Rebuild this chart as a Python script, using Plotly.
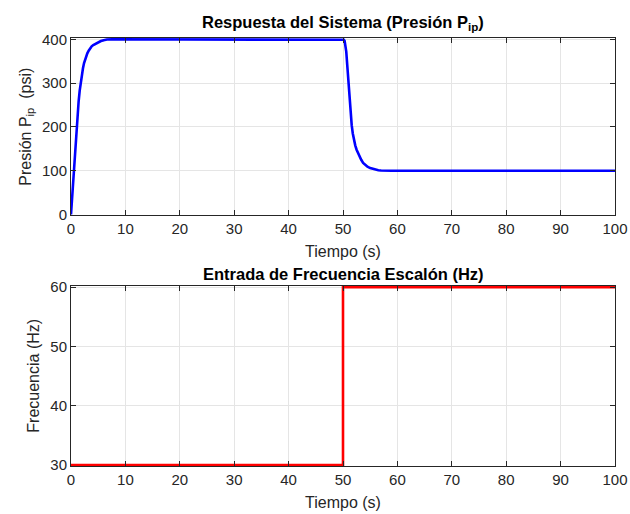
import plotly.graph_objects as go
from plotly.subplots import make_subplots

# Pressure response
t_p = [0, 0.25, 0.5, 0.75, 1.0, 1.2, 1.4, 1.6, 1.8, 2.0, 2.2, 2.4, 2.6, 2.8, 3.0, 3.25, 3.5,
       3.8, 4.1, 4.5, 5.0, 5.5, 6.0, 6.6, 7.5,
       50, 50.15, 50.3, 50.45, 50.6, 50.8, 51, 51.2, 51.4, 51.6, 51.8, 52, 52.25, 52.5, 52.75,
       53, 53.35, 53.7, 54, 54.5, 55, 55.5, 56, 56.5, 57, 58, 59, 100]
p_ip = [0, 50, 100, 150, 198, 230, 258, 283, 304, 320, 334, 346, 355, 362, 368, 374, 379,
        384, 387, 390, 393.5, 396, 398, 399.5, 400,
        400, 399, 396, 387, 372, 338, 298, 262, 232, 204, 185, 171, 158, 148, 140,
        134, 125, 118, 114, 109, 106, 103.8, 102.2, 101.2, 100.6, 100.1, 100, 100]

# Step frequency input
t_f = [0, 50, 50, 100]
freq = [30, 30, 60, 60]

x_ticks = [0, 10, 20, 30, 40, 50, 60, 70, 80, 90, 100]
y1_ticks = [0, 100, 200, 300, 400]
y2_ticks = [30, 40, 50, 60]

FONT = "Liberation Sans, Arial, sans-serif"
AX = "#262626"
GRID = "#e5e5e5"

fig = make_subplots(rows=2, cols=1)
fig.add_trace(go.Scatter(x=t_p, y=p_ip, mode="lines", line=dict(color="#0000ff", width=2.6),
                         showlegend=False), row=1, col=1)
fig.add_trace(go.Scatter(x=t_f, y=freq, mode="lines", line=dict(color="#ff0000", width=2.6),
                         showlegend=False), row=2, col=1)

axis_common = dict(showline=True, linecolor=AX, linewidth=1, mirror="allticks",
                   ticks="inside", ticklen=5, tickcolor=AX, showgrid=True, gridcolor=GRID,
                   gridwidth=1, zeroline=False, automargin=False,
                   tickfont=dict(family=FONT, size=15, color=AX),
                   title_font=dict(family=FONT, size=16, color=AX))

fig.update_layout(
    width=630, height=514, margin=dict(l=71, r=15, t=38, b=48),
    paper_bgcolor="white", plot_bgcolor="white",
    font=dict(family=FONT, color=AX),
    xaxis=dict(domain=[0, 1], range=[0, 100], tickvals=x_ticks, anchor="y",
               title=dict(text="Tiempo (s)", standoff=9), **axis_common),
    yaxis=dict(domain=[0.5855, 1], range=[-2, 403], tickvals=y1_ticks, anchor="x",
               title=dict(text="Presión P<sub>ip</sub>  (psi)", standoff=6), **axis_common),
    xaxis2=dict(domain=[0, 1], range=[0, 100], tickvals=x_ticks, anchor="y2",
                title=dict(text="Tiempo (s)", standoff=9), **axis_common),
    yaxis2=dict(domain=[0, 0.4215], range=[29.85, 60.25], tickvals=y2_ticks, anchor="x2",
                title=dict(text="Frecuencia (Hz)", standoff=6), **axis_common),
    annotations=[
        dict(text="<b>Respuesta del Sistema (Presión P<sub>ip</sub>)</b>", xref="paper", yref="paper",
             x=0.5, y=1, yanchor="bottom", yshift=3, showarrow=False,
             font=dict(family=FONT, size=16.5, color="black")),
        dict(text="<b>Entrada de Frecuencia Escalón (Hz)</b>", xref="paper", yref="paper",
             x=0.5, y=0.4215, yanchor="bottom", yshift=1, showarrow=False,
             font=dict(family=FONT, size=16.5, color="black")),
    ],
)

fig.write_html("out.html")
